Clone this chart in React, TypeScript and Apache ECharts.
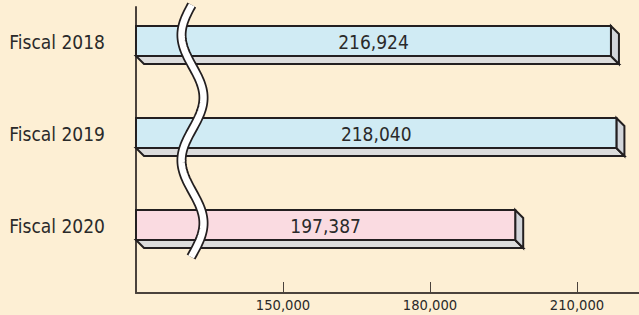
import React, { useEffect, useRef } from "react";
import * as echarts from "echarts";

const categories = ["Fiscal 2018", "Fiscal 2019", "Fiscal 2020"];
const values = [216924, 218040, 197387];
const barColors = ["#d0ebf4", "#d0ebf4", "#fadbe1"];
const xTicks = [150000, 180000, 210000];
const X_MIN = 120000;
const X_MAX = 222650;
const Y_MIN = -0.38;
const Y_MAX = 2.728;

const FONT = "'DejaVu Sans Condensed', sans-serif";
const INK = "#231f20";
const TEXT = "#2a2a2a";
const AXIS = "#4a423c";

const fmt = (v: number) => v.toLocaleString("en-US");

function wavePoints(): number[][] {
  const pts: number[][] = [];
  for (let y = 5; y <= 257; y += 2) {
    const x = 192.5 + 11 * Math.sin((Math.PI * (y - 35)) / 62.7 - Math.PI / 2);
    pts.push([x, y]);
  }
  return pts;
}

export default function App() {
  const ref = useRef<HTMLDivElement>(null);
  useEffect(() => {
    if (!ref.current) return;
    const chart = echarts.init(ref.current, null, { renderer: "svg" });
    const pts = wavePoints();
    chart.setOption({
      animation: false,
      backgroundColor: "#fdefd4",
      grid: { left: 136, right: 0, top: 7, bottom: 22 },
      xAxis: {
        type: "value",
        min: X_MIN,
        max: X_MAX,
        axisLine: { show: true, onZero: false, lineStyle: { color: AXIS, width: 2 } },
        axisTick: {
          show: true,
          inside: true,
          length: 11,
          customValues: xTicks,
          lineStyle: { color: AXIS, width: 1 },
        },
        axisLabel: {
          customValues: xTicks,
          formatter: (v: number) => fmt(v),
          color: TEXT,
          fontFamily: FONT,
          fontSize: 14.6,
          margin: 4,
        },
        splitLine: { show: false },
      },
      yAxis: {
        type: "value",
        inverse: true,
        min: Y_MIN,
        max: Y_MAX,
        axisLine: { show: true, onZero: false, lineStyle: { color: AXIS, width: 2 } },
        axisTick: { show: false },
        axisLabel: {
          customValues: categories.map((_, i) => i),
          formatter: (v: number) => categories[Math.round(v)] ?? "",
          color: TEXT,
          fontFamily: FONT,
          fontSize: 19,
          margin: 31,
        },
        splitLine: { show: false },
      },
      series: [
        {
          type: "custom",
          clip: false,
          data: values.map((v, i) => [v, i]),
          encode: { x: 0, y: 1 },
          renderItem: (params: any, api: any) => {
            const v = api.value(0);
            const idx = api.value(1);
            const s = api.coord([X_MIN, idx]);
            const e = api.coord([v, idx]);
            const x0 = s[0];
            const x1 = e[0];
            const cy = e[1];
            const top = cy - 16;
            const bot = cy + 14;
            const d = 8;
            const stroke = { stroke: INK, lineWidth: 2, lineJoin: "miter" };
            return {
              type: "group",
              children: [
                {
                  type: "polygon",
                  shape: { points: [[x0, bot], [x1, bot], [x1 + d, bot + d], [x0 + d, bot + d]] },
                  style: { fill: "#dcdcdc", ...stroke },
                },
                {
                  type: "polygon",
                  shape: { points: [[x1, top], [x1 + d, top + d], [x1 + d, bot + d], [x1, bot]] },
                  style: { fill: "#d2d5da", ...stroke },
                },
                {
                  type: "rect",
                  shape: { x: x0, y: top, width: x1 - x0, height: bot - top },
                  style: { fill: barColors[idx], ...stroke },
                },
                {
                  type: "text",
                  x: (x0 + x1) / 2,
                  y: (top + bot) / 2 + 1,
                  style: {
                    text: fmt(v),
                    fill: TEXT,
                    fontFamily: FONT,
                    fontSize: 19,
                    align: "center",
                    verticalAlign: "middle",
                  },
                },
              ],
            };
          },
        },
      ],
      graphic: [
        {
          type: "polyline",
          z: 100,
          shape: { points: pts },
          style: { stroke: INK, lineWidth: 10, fill: null, lineCap: "butt" },
        },
        {
          type: "polyline",
          z: 101,
          shape: { points: pts },
          style: { stroke: "#ffffff", lineWidth: 6.5, fill: null, lineCap: "butt" },
        },
      ],
    });
    return () => chart.dispose();
  }, []);
  return (
    <div
      ref={ref}
      style={{ position: "absolute", left: 0, top: 0, width: 639, height: 315 }}
    />
  );
}
